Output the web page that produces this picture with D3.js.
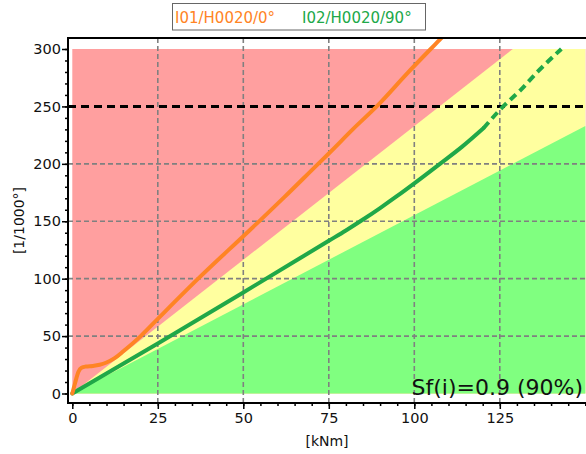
<!DOCTYPE html>
<html><head><meta charset="utf-8">
<script src="https://cdn.jsdelivr.net/npm/d3@7"></script>
<style>body{margin:0;background:#fff}svg{display:block;font-family:"DejaVu Sans",sans-serif}</style>
</head><body><svg id="c" width="586" height="454"></svg>
<script>
// ---- data ----
const seriesNames = ["I01/H0020/0°", "I02/H0020/90°"];
const seriesColors = ["#ff8424", "#20a848"];
const orangeX = [0, 0.8, 1.8, 2.7, 4, 6, 8, 10, 12.5, 15, 20, 25, 36.8, 50, 55, 62, 71.9, 75, 82, 89, 98, 107.4, 110];
const orangeY = [0, 9, 19, 22.5, 23.5, 24, 25, 27, 31, 37, 50, 65, 100, 137, 151, 171, 200, 209, 230, 250, 279, 308, 316];
const greenX = [0, 25, 50, 75, 80, 85, 90, 95, 100, 107.5, 114, 120.2];
const greenY = [0, 43.5, 88, 133, 142, 151.5, 161.5, 172, 183, 200, 215, 231];
const greenDashX = [120.2, 126, 131, 136, 143];
const greenDashY = [231, 250, 264, 280, 300];
const xTicks = [0, 25, 50, 75, 100, 125];
const yTicks = [0, 50, 100, 150, 200, 250, 300];
const limitValue = 250;
const zoneExtent = [150, 300];              // x max, y max of the coloured zones
const zoneRedYellowEnd = [128.8, 300];      // boundary red/yellow from origin
const zoneYellowGreenEnd = [150, 233];      // boundary yellow/green from origin
const xLabel = "[kNm]", yLabel = "[1/1000°]", noteText = "Sf(i)=0.9 (90%)";

// ---- layout ----
const svg = d3.select("#c");
const L = 68, T = 38, R = 586, B = 403;
const x = d3.scaleLinear().domain([0, 150]).range([72.3, 585.3]);
const y = d3.scaleLinear().domain([0, 300]).range([393.5, 49]);

svg.append("defs").append("clipPath").attr("id", "pc")
  .append("rect").attr("x", L).attr("y", T).attr("width", R - L).attr("height", B - T);

// zones
const zones = svg.append("g");
zones.append("rect").attr("x", x(0)).attr("y", y(zoneExtent[1]))
  .attr("width", x(zoneExtent[0]) - x(0)).attr("height", y(0) - y(zoneExtent[1])).attr("fill", "#ff9f9f");
const poly = pts => pts.map(p => [x(p[0]), y(p[1])].join(",")).join(" ");
zones.append("polygon").attr("fill", "#ffff9f")
  .attr("points", poly([[0, 0], zoneRedYellowEnd, [zoneExtent[0], zoneExtent[1]], [zoneExtent[0], 0]]));
zones.append("polygon").attr("fill", "#80ff80")
  .attr("points", poly([[0, 0], zoneYellowGreenEnd, [zoneExtent[0], 0]]));

// grid
const grid = svg.append("g").attr("stroke", "#808080").attr("stroke-width", 1.6).attr("stroke-dasharray", "5,3");
xTicks.filter(d => d > 0).forEach(d => grid.append("line").attr("x1", x(d)).attr("x2", x(d)).attr("y1", T).attr("y2", B));
yTicks.filter(d => d > 0 && d < 300 && d !== limitValue).forEach(d => grid.append("line").attr("x1", L).attr("x2", R).attr("y1", y(d)).attr("y2", y(d)));

// limit line
svg.append("line").attr("x1", L).attr("x2", R).attr("y1", y(limitValue)).attr("y2", y(limitValue))
  .attr("stroke", "#000").attr("stroke-width", 3).attr("stroke-dasharray", "8,5");

// curves
const line = d3.line().x(d => x(d[0])).y(d => y(d[1])).curve(d3.curveMonotoneX);
const cg = svg.append("g").attr("clip-path", "url(#pc)").attr("fill", "none").attr("stroke-linecap", "round").attr("stroke-linejoin", "round");
cg.append("path").attr("d", line(greenX.map((v, i) => [v, greenY[i]]))).attr("stroke", seriesColors[1]).attr("stroke-width", 4);
cg.append("path").attr("d", line(greenDashX.map((v, i) => [v, greenDashY[i]]))).attr("stroke", seriesColors[1]).attr("stroke-width", 4)
  .attr("stroke-linecap", "butt").attr("stroke-dasharray", "8,5");
cg.append("path").attr("d", line(orangeX.map((v, i) => [v, orangeY[i]]))).attr("stroke", seriesColors[0]).attr("stroke-width", 4);

// axes
const xMinor = d3.range(0, 151, 5), yMinor = d3.range(0, 301, 10);
const xa = svg.append("g").attr("transform", `translate(0,${B})`);
xa.call(d3.axisBottom(x).tickValues(xMinor).tickSize(3).tickFormat(""));
xa.call(g => g.append("g").call(d3.axisBottom(x).tickValues(xTicks).tickSize(6).tickPadding(4)));
const ya = svg.append("g").attr("transform", `translate(${L},0)`);
ya.call(d3.axisLeft(y).tickValues(yMinor).tickSize(3).tickFormat(""));
ya.call(g => g.append("g").call(d3.axisLeft(y).tickValues(yTicks).tickSize(6).tickPadding(1)));
svg.selectAll(".domain").remove();
svg.selectAll(".tick line").attr("stroke", "#000").attr("stroke-width", 1.5);
svg.selectAll(".tick text").attr("font-size", 14.5).attr("fill", "#111").attr("font-family", "DejaVu Sans");
const frame = svg.append("g").attr("stroke", "#000").attr("stroke-width", 2);
frame.append("line").attr("x1", L).attr("x2", L).attr("y1", T - 1).attr("y2", B + 1);
frame.append("line").attr("x1", L - 1).attr("x2", R).attr("y1", B).attr("y2", B);
frame.append("line").attr("x1", L - 1).attr("x2", R).attr("y1", T).attr("y2", T);

// axis labels
svg.append("text").attr("x", (L + R) / 2).attr("y", 446).attr("text-anchor", "middle")
  .attr("font-size", 14).attr("fill", "#111").text(xLabel);
svg.append("text").attr("transform", `translate(24,${(T + B) / 2}) rotate(-90)`).attr("text-anchor", "middle")
  .attr("font-size", 14).attr("fill", "#111").text(yLabel);

// note
svg.append("text").attr("x", 583).attr("y", 395).attr("text-anchor", "end")
  .attr("font-size", 22).attr("fill", "#111").text(noteText);

// legend
svg.append("rect").attr("x", 172.5).attr("y", 3.5).attr("width", 253).attr("height", 26.5)
  .attr("fill", "#fff").attr("stroke", "#666").attr("stroke-width", 1);
const lx = [175, 302];
seriesNames.forEach((n, i) => svg.append("text").attr("x", lx[i]).attr("y", 23).attr("font-size", 15)
  .attr("fill", seriesColors[i]).text(n));
</script></body></html>
